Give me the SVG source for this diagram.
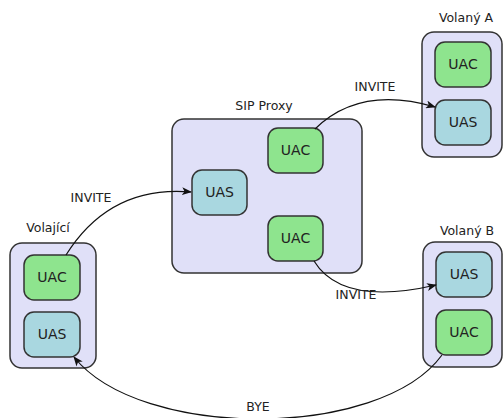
<svg xmlns="http://www.w3.org/2000/svg" width="504" height="418" viewBox="0 0 504 418">
  <style>
    .host { fill: #e0e0f8; stroke: #333333; stroke-width: 1.5; }
    .uac { fill: #8ee48e; stroke: #333333; stroke-width: 1.5; }
    .uas { fill: #a9d7e0; stroke: #333333; stroke-width: 1.5; }
    .box-text { font-family: "DejaVu Sans", sans-serif; font-size: 14px; fill: #222222; text-anchor: middle; }
    .label { font-family: "DejaVu Sans", sans-serif; font-size: 12.5px; fill: #222222; text-anchor: middle; }
    .link { fill: none; stroke: #111111; stroke-width: 1.2; }
  </style>
  <defs>
    <marker id="arrow" markerUnits="userSpaceOnUse" markerWidth="10" markerHeight="8" refX="9" refY="4" orient="auto">
      <path d="M0,0 L10,4 L0,8 L2.5,4 Z" fill="#111111"/>
    </marker>
  </defs>
  <rect width="504" height="418" fill="#ffffff"/>

  <!-- Caller -->
  <g id="volajici">
    <rect class="host" x="10" y="243" width="86" height="125" rx="12"/>
    <text class="label" x="48" y="232">Volající</text>
  </g>
  <g id="volajici-uac">
    <rect class="uac" x="24" y="255" width="56" height="45" rx="10"/>
    <text class="box-text" x="52" y="282">UAC</text>
  </g>
  <g id="volajici-uas">
    <rect class="uas" x="24" y="312" width="56" height="45" rx="10"/>
    <text class="box-text" x="52" y="339">UAS</text>
  </g>

  <!-- Proxy -->
  <g id="sip-proxy">
    <rect class="host" x="172" y="119" width="190" height="154" rx="12"/>
    <text class="label" x="264" y="110">SIP Proxy</text>
  </g>
  <g id="proxy-uas">
    <rect class="uas" x="192" y="170" width="55" height="45" rx="10"/>
    <text class="box-text" x="219.5" y="197">UAS</text>
  </g>
  <g id="proxy-uac-a">
    <rect class="uac" x="268" y="128" width="55" height="45" rx="10"/>
    <text class="box-text" x="295.5" y="155">UAC</text>
  </g>
  <g id="proxy-uac-b">
    <rect class="uac" x="268" y="216" width="55" height="45" rx="10"/>
    <text class="box-text" x="295.5" y="243">UAC</text>
  </g>

  <!-- Callee A -->
  <g id="volany-a">
    <rect class="host" x="422" y="32" width="80" height="125" rx="12"/>
    <text class="label" x="466" y="22">Volaný A</text>
  </g>
  <g id="volany-a-uac">
    <rect class="uac" x="435" y="42" width="56" height="45" rx="10"/>
    <text class="box-text" x="463" y="69">UAC</text>
  </g>
  <g id="volany-a-uas">
    <rect class="uas" x="435" y="100" width="56" height="45" rx="10"/>
    <text class="box-text" x="463" y="127">UAS</text>
  </g>

  <!-- Callee B -->
  <g id="volany-b">
    <rect class="host" x="423" y="242" width="79" height="125" rx="12"/>
    <text class="label" x="467" y="235">Volaný B</text>
  </g>
  <g id="volany-b-uas">
    <rect class="uas" x="436" y="252" width="56" height="45" rx="10"/>
    <text class="box-text" x="464" y="279">UAS</text>
  </g>
  <g id="volany-b-uac">
    <rect class="uac" x="436" y="310" width="56" height="45" rx="10"/>
    <text class="box-text" x="464" y="337">UAC</text>
  </g>

  <!-- Messages -->
  <g id="connectors">
    <path class="link" d="M66,255 Q110,185 191,192" marker-end="url(#arrow)"/>
    <text class="label" x="91" y="202">INVITE</text>
    <path class="link" d="M315,129 Q360,85 435,107" marker-end="url(#arrow)"/>
    <text class="label" x="375" y="91">INVITE</text>
    <path class="link" d="M314,261 C335,295 380,298 436,285" marker-end="url(#arrow)"/>
    <text class="label" x="356" y="299">INVITE</text>
    <path class="link" d="M442,355 C380,440 140,440 74,357" marker-end="url(#arrow)"/>
    <text class="label" x="258" y="411">BYE</text>
  </g>
</svg>
